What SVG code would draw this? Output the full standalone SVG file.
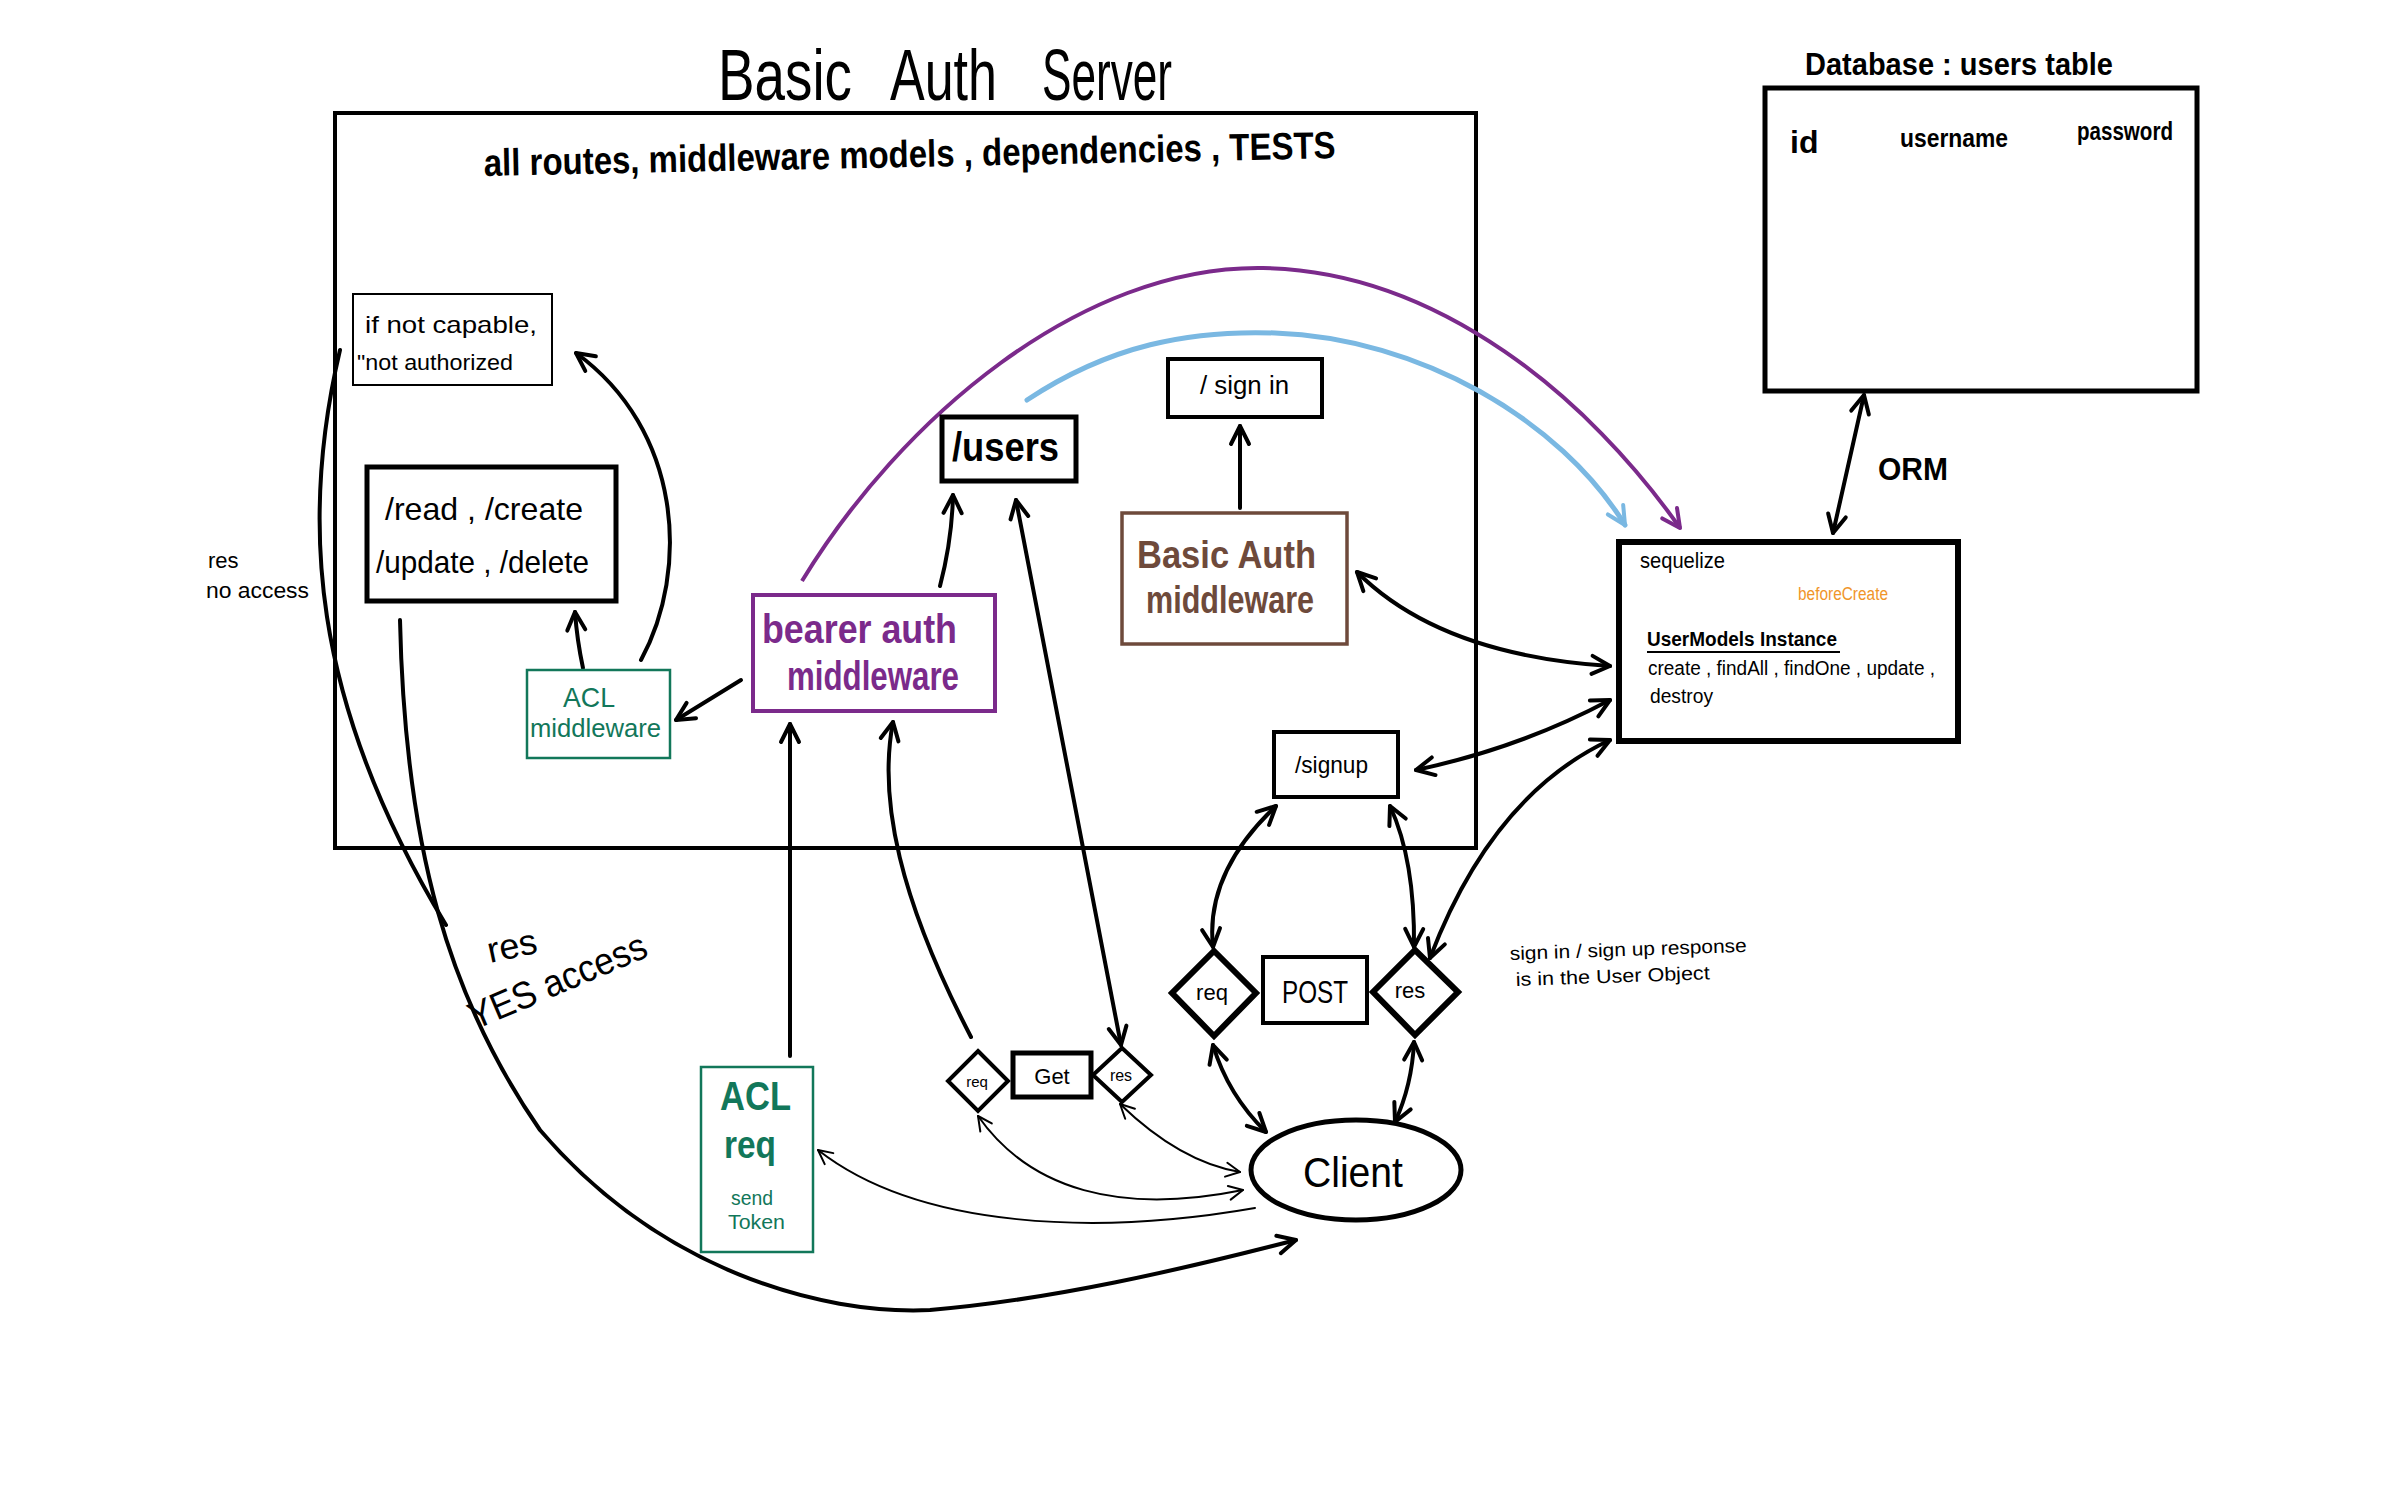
<svg xmlns="http://www.w3.org/2000/svg" width="2386" height="1491" viewBox="0 0 2386 1491">
<style>
text{font-family:"Liberation Sans","DejaVu Sans",Arial,sans-serif;fill:#000}
.b{font-weight:bold}
.box{fill:#fff;stroke:#000}
.ln{fill:none;stroke:#000;stroke-width:4;stroke-linecap:round}
.thin{fill:none;stroke:#000;stroke-width:2;stroke-linecap:round}
.grn{fill:#12775a}
.pur{fill:#7b2a8b}
.brn{fill:#6e4a3b}
</style>
<defs>
<marker id="ah" viewBox="0 0 24 24" refX="21" refY="12" markerWidth="24" markerHeight="24" markerUnits="userSpaceOnUse" orient="auto-start-reverse"><path d="M3,3 L21,12 L3,21" fill="none" stroke="#000" stroke-width="4" stroke-linecap="round" stroke-linejoin="round"/></marker>
<marker id="ahs" viewBox="0 0 18 18" refX="16" refY="9" markerWidth="18" markerHeight="18" markerUnits="userSpaceOnUse" orient="auto-start-reverse"><path d="M2,2 L16,9 L2,16" fill="none" stroke="#000" stroke-width="2" stroke-linecap="round" stroke-linejoin="round"/></marker>
<marker id="ahp" viewBox="0 0 24 24" refX="21" refY="12" markerWidth="24" markerHeight="24" markerUnits="userSpaceOnUse" orient="auto"><path d="M3,3 L21,12 L3,21" fill="none" stroke="#7b2a8b" stroke-width="4" stroke-linecap="round" stroke-linejoin="round"/></marker>
<marker id="ahb" viewBox="0 0 24 24" refX="21" refY="12" markerWidth="24" markerHeight="24" markerUnits="userSpaceOnUse" orient="auto"><path d="M3,3 L21,12 L3,21" fill="none" stroke="#7ab8e2" stroke-width="4" stroke-linecap="round" stroke-linejoin="round"/></marker>
</defs>
<rect width="2386" height="1491" fill="#fff"/>

<g id="title"><text y="100" font-size="72"><tspan x="718" textLength="134" lengthAdjust="spacingAndGlyphs">Basic</tspan><tspan x="890" textLength="107" lengthAdjust="spacingAndGlyphs">Auth</tspan><tspan x="1042" textLength="130" lengthAdjust="spacingAndGlyphs">Server</tspan></text></g>

<g id="server">
<rect x="335" y="113" width="1141" height="735" fill="none" stroke="#000" stroke-width="4"/>
<text x="484" y="176" font-size="38" class="b" textLength="852" lengthAdjust="spacingAndGlyphs" transform="rotate(-1.2 484 176)">all routes, middleware  models , dependencies , TESTS</text>
</g>

<g id="db">
<text x="1805" y="75" font-size="32" class="b" textLength="308" lengthAdjust="spacingAndGlyphs">Database : users table</text>
<rect x="1765" y="88" width="432" height="303" class="box" stroke-width="5"/>
<text x="1790" y="153" font-size="32" class="b">id</text>
<text x="1900" y="147" font-size="26" class="b" textLength="108" lengthAdjust="spacingAndGlyphs">username</text>
<text x="2077" y="140" font-size="26" class="b" textLength="96" lengthAdjust="spacingAndGlyphs">password</text>
</g>

<g id="connectors">
<path class="ln" d="M741,680 L676,720" marker-end="url(#ah)"/>
<path class="ln" d="M583,668 Q577,640 575,612" marker-end="url(#ah)"/>
<path class="ln" d="M641,660 C690,570 682,430 576,353" marker-end="url(#ah)"/>
<path class="ln" d="M940,586 Q952,540 953,495" marker-end="url(#ah)"/>
<path class="ln" d="M1240,508 L1240,426" marker-end="url(#ah)"/>
<path d="M802,581 C900,420 1080,265 1263,268 C1440,271 1590,400 1680,528" fill="none" stroke="#7b2a8b" stroke-width="4" marker-end="url(#ahp)"/>
<path d="M1027,400 C1110,345 1190,330 1275,333 C1420,338 1560,420 1625,525" fill="none" stroke="#7ab8e2" stroke-width="5" stroke-linecap="round" marker-end="url(#ahb)"/>
<path class="ln" d="M1357,572 Q1440,655 1610,666" marker-start="url(#ah)" marker-end="url(#ah)"/>
<path class="ln" d="M1416,770 Q1520,748 1610,700" marker-start="url(#ah)" marker-end="url(#ah)"/>
<path class="ln" d="M1430,958 Q1492,795 1610,740" marker-start="url(#ah)" marker-end="url(#ah)"/>
<path class="ln" d="M1864,395 L1833,533" marker-start="url(#ah)" marker-end="url(#ah)"/>
<path class="ln" d="M1276,806 Q1205,873 1213,947" marker-start="url(#ah)" marker-end="url(#ah)"/>
<path class="ln" d="M1390,806 Q1415,860 1414,947" marker-start="url(#ah)" marker-end="url(#ah)"/>
<path class="ln" d="M1213,1045 Q1228,1095 1266,1132" marker-start="url(#ah)" marker-end="url(#ah)"/>
<path class="ln" d="M1414,1042 Q1412,1085 1395,1122" marker-start="url(#ah)" marker-end="url(#ah)"/>
<path class="ln" d="M790,1056 L790,724" marker-end="url(#ah)"/>
<path class="ln" d="M971,1037 C900,900 878,800 893,722" marker-end="url(#ah)"/>
<path class="ln" d="M1016,500 L1121,1045" marker-start="url(#ah)" marker-end="url(#ah)"/>
<path class="thin" d="M1120,1104 Q1180,1162 1240,1172" marker-start="url(#ahs)" marker-end="url(#ahs)"/>
<path class="thin" d="M978,1116 C1030,1190 1120,1215 1243,1190" marker-start="url(#ahs)" marker-end="url(#ahs)"/>
<path class="thin" d="M1255,1208 C1100,1235 920,1230 818,1150" marker-end="url(#ahs)"/>
<path class="ln" d="M400,620 C405,850 450,1000 540,1130 C660,1270 820,1315 930,1310 C1050,1300 1180,1270 1296,1240" stroke-width="5" marker-end="url(#ah)"/>
<path class="ln" d="M340,350 C300,520 310,700 446,925"/>
</g>

<g id="orm-label"><text x="1878" y="480" font-size="32" class="b" textLength="70" lengthAdjust="spacingAndGlyphs">ORM</text></g>

<g id="not-capable">
<rect x="353" y="294" width="199" height="91" class="box" stroke-width="2"/>
<text x="365" y="333" font-size="24" textLength="172" lengthAdjust="spacingAndGlyphs">if not capable,</text>
<text x="357" y="370" font-size="22" textLength="156" lengthAdjust="spacingAndGlyphs">"not authorized</text>
</g>

<g id="crud">
<rect x="367" y="467" width="249" height="134" class="box" stroke-width="5"/>
<text x="385" y="520" font-size="32" textLength="198" lengthAdjust="spacingAndGlyphs">/read , /create</text>
<text x="376" y="573" font-size="32" textLength="213" lengthAdjust="spacingAndGlyphs">/update , /delete</text>
</g>

<g id="no-access-label">
<text x="208" y="568" font-size="22">res</text>
<text x="206" y="598" font-size="22" textLength="103" lengthAdjust="spacingAndGlyphs">no access</text>
</g>

<g id="acl-mw">
<rect x="527" y="670" width="143" height="88" fill="#fff" stroke="#12775a" stroke-width="2.5"/>
<text x="563" y="707" font-size="28" class="grn" textLength="52" lengthAdjust="spacingAndGlyphs">ACL</text>
<text x="530" y="737" font-size="26" class="grn" textLength="131" lengthAdjust="spacingAndGlyphs">middleware</text>
</g>

<g id="bearer">
<rect x="753" y="595" width="242" height="116" fill="#fff" stroke="#7b2a8b" stroke-width="4"/>
<text x="762" y="643" font-size="40" class="b pur" textLength="195" lengthAdjust="spacingAndGlyphs">bearer auth</text>
<text x="787" y="690" font-size="40" class="b pur" textLength="172" lengthAdjust="spacingAndGlyphs">middleware</text>
</g>

<g id="users">
<rect x="942" y="417" width="134" height="64" class="box" stroke-width="5"/>
<text x="952" y="461" font-size="40" class="b" textLength="107" lengthAdjust="spacingAndGlyphs">/users</text>
</g>

<g id="signin">
<rect x="1168" y="359" width="154" height="58" class="box" stroke-width="4"/>
<text x="1200" y="394" font-size="26" textLength="89" lengthAdjust="spacingAndGlyphs">/ sign in</text>
</g>

<g id="basic-auth-mw">
<rect x="1122" y="513" width="225" height="131" fill="#fff" stroke="#6e4a3b" stroke-width="3.5"/>
<text x="1137" y="568" font-size="38" class="b brn" textLength="179" lengthAdjust="spacingAndGlyphs">Basic Auth</text>
<text x="1146" y="613" font-size="38" class="b brn" textLength="168" lengthAdjust="spacingAndGlyphs">middleware</text>
</g>

<g id="sequelize">
<rect x="1619" y="542" width="339" height="199" class="box" stroke-width="6"/>
<text x="1640" y="568" font-size="22" textLength="85" lengthAdjust="spacingAndGlyphs">sequelize</text>
<text x="1798" y="600" font-size="18" style="fill:#f0952a" textLength="90" lengthAdjust="spacingAndGlyphs">beforeCreate</text>
<text x="1647" y="646" font-size="20" class="b" textLength="190" lengthAdjust="spacingAndGlyphs">UserModels  Instance</text>
<line x1="1647" y1="652" x2="1840" y2="652" stroke="#000" stroke-width="2"/>
<text x="1648" y="675" font-size="20" textLength="287" lengthAdjust="spacingAndGlyphs">create , findAll , findOne , update ,</text>
<text x="1650" y="703" font-size="20" textLength="63" lengthAdjust="spacingAndGlyphs">destroy</text>
</g>

<g id="signup">
<rect x="1274" y="732" width="124" height="65" class="box" stroke-width="4"/>
<text x="1295" y="773" font-size="24" textLength="73" lengthAdjust="spacingAndGlyphs">/signup</text>
</g>

<g id="post-req">
<polygon points="1214,951 1256,993 1214,1036 1172,993" class="box" stroke-width="6"/>
<text x="1212" y="1000" font-size="22" text-anchor="middle">req</text>
</g>
<g id="post">
<rect x="1263" y="957" width="104" height="66" class="box" stroke-width="4"/>
<text x="1282" y="1003" font-size="32" textLength="66" lengthAdjust="spacingAndGlyphs">POST</text>
</g>
<g id="post-res">
<polygon points="1415,950 1458,992 1415,1035 1373,992" class="box" stroke-width="6"/>
<text x="1410" y="998" font-size="22" text-anchor="middle">res</text>
</g>

<g id="sign-note">
<text x="1510" y="960" font-size="19" textLength="237" lengthAdjust="spacingAndGlyphs" transform="rotate(-2 1510 960)">sign in / sign up  response</text>
<text x="1516" y="986" font-size="19" textLength="194" lengthAdjust="spacingAndGlyphs" transform="rotate(-2 1516 986)">is in  the User Object</text>
</g>

<g id="get-req">
<polygon points="978,1051 1008,1081 978,1111 948,1081" class="box" stroke-width="4"/>
<text x="977" y="1087" font-size="15" text-anchor="middle">req</text>
</g>
<g id="get">
<rect x="1013" y="1053" width="78" height="44" class="box" stroke-width="5"/>
<text x="1052" y="1084" font-size="22" text-anchor="middle">Get</text>
</g>
<g id="get-res">
<polygon points="1122,1048 1151,1075 1122,1102 1093,1075" class="box" stroke-width="4"/>
<text x="1121" y="1081" font-size="16" text-anchor="middle">res</text>
</g>

<g id="client">
<ellipse cx="1356" cy="1170" rx="105" ry="50" class="box" stroke-width="5"/>
<text x="1303" y="1187" font-size="42" textLength="100" lengthAdjust="spacingAndGlyphs">Client</text>
</g>

<g id="acl-req">
<rect x="701" y="1067" width="112" height="185" fill="#fff" stroke="#12775a" stroke-width="2.5"/>
<text x="720" y="1110" font-size="40" class="b grn" textLength="71" lengthAdjust="spacingAndGlyphs">ACL</text>
<text x="724" y="1158" font-size="38" class="b grn" textLength="52" lengthAdjust="spacingAndGlyphs">req</text>
<text x="731" y="1205" font-size="20" class="grn" textLength="42" lengthAdjust="spacingAndGlyphs">send</text>
<text x="728" y="1229" font-size="20" class="grn" textLength="57" lengthAdjust="spacingAndGlyphs">Token</text>
</g>

<g id="yes-access-label">
<text x="490" y="963" font-size="36" transform="rotate(-12 490 963)">res</text>
<text x="475" y="1030" font-size="38" textLength="190" lengthAdjust="spacingAndGlyphs" transform="rotate(-23 475 1030)">YES access</text>
</g>
</svg>
